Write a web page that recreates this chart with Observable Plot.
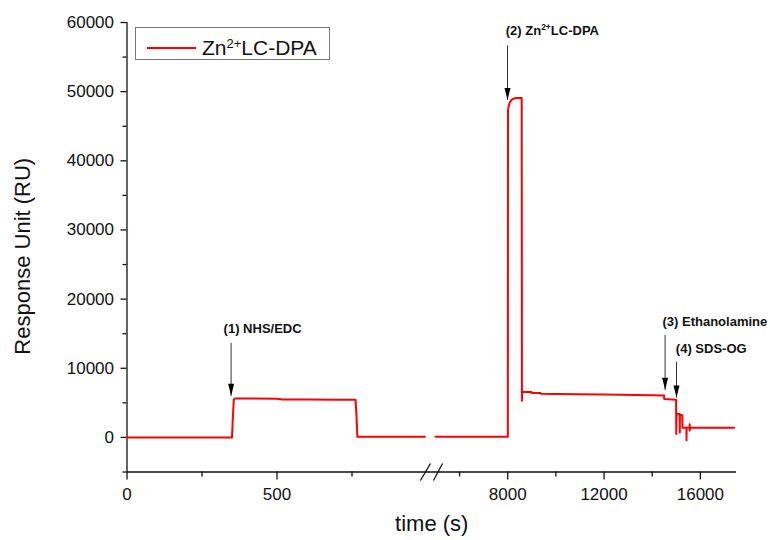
<!DOCTYPE html>
<html><head><meta charset="utf-8">
<script src="https://cdn.jsdelivr.net/npm/d3@7"></script>
<script src="https://cdn.jsdelivr.net/npm/@observablehq/plot@0.6"></script>
<style>
body{margin:0;background:#fff;}
#wrap{position:relative;width:770px;height:540px;font-family:"Liberation Sans",Arial,sans-serif;}
#legend{position:absolute;left:135px;top:27px;width:195px;height:33px;box-sizing:border-box;border:1px solid #777;background:#fff;}
#legend .swatch{position:absolute;left:11px;top:19px;width:49px;height:2px;background:#ff0000;}
#legend .lab{position:absolute;left:66px;top:9px;font-size:21px;line-height:1;color:#111;white-space:nowrap;}
#legend sup{font-size:0.62em;vertical-align:0.55em;line-height:0;}
</style></head>
<body><div id="wrap"></div>
<script>
// ---- data: segment before the axis break (s, RU)
const leftTime = [0, 100, 200, 300, 350, 353, 356, 360, 400, 500, 520, 600, 700, 762, 765, 768, 800, 900, 993];
const leftRU   = [0, 0, 0, 0, 0, 3000, 5500, 5620, 5620, 5600, 5480, 5470, 5460, 5450, 3000, 80, 80, 80, 80];
// ---- data: segment after the axis break (s, RU)
const rightTime = [5000, 6000, 7000, 8005, 8010, 8040, 8080, 8150, 8250, 8360, 8580, 8590, 8595, 8990, 9000, 9370, 9380, 10000, 12000, 14000, 14490, 14500, 14990, 15000, 15010, 15140, 15146, 15152, 15250, 15258, 15420, 15424, 15430, 15550, 15555, 15561, 15570, 16500, 17400];
const rightRU   = [100, 100, 100, 100, 47300, 47900, 48400, 48800, 49000, 49100, 49100, 5300, 6560, 6560, 6420, 6420, 6300, 6280, 6200, 6100, 6080, 5550, 5450, 500, 3400, 3400, 700, 3300, 3200, 1400, 1400, -400, 1400, 1400, 1900, 1000, 1400, 1400, 1400];
// ---- annotations
const annLabels     = ["(1) NHS/EDC", "(2) Zn2+LC-DPA", "(3) Ethanolamine", "(4) SDS-OG"];
const annLabelTime  = [322, 7917, 14427, 14980];
const annLabelRU    = [15700, 58840, 16760, 12850];
const annArrowTime  = [347, 7990, 14535, 15009];
const annArrowFrom  = [13680, 56680, 14840, 10930];
const annArrowTo    = [6010, 48810, 6880, 5760];
// ---- axes
const xMajorTicks = [0, 500, 8000, 12000, 16000];
const xMinorTicks = [250, 750, 6000, 10000, 14000];
const yMajorTicks = [0, 10000, 20000, 30000, 40000, 50000, 60000];
const yMinorTicks = [-5000, 5000, 15000, 25000, 35000, 45000, 55000];
const xBreakDomain = [0, 1000, 5000, 17500];
const breakSlashX1 = [978, 4059];
const breakSlashX2 = [2647, 5291];
const breakSlashY  = [-6230, -3770];
const seriesName = "Zn2+LC-DPA";

const rows = [
  ...leftTime.map((t, i) => ({t, ru: leftRU[i], seg: "a"})),
  ...rightTime.map((t, i) => ({t, ru: rightRU[i], seg: "b"}))
];
const ann = annLabels.map((label, i) => ({label, lt: annLabelTime[i], ly: annLabelRU[i], at: annArrowTime[i], from: annArrowFrom[i], to: annArrowTo[i]}));
const slashes = breakSlashX1.map((x1, i) => ({x1, x2: breakSlashX2[i], y1: breakSlashY[0], y2: breakSlashY[1]}));

const W = 770, H = 540, ML = 126.5, MR = 34, MT = 22, MB = 68.5;
const font = '"Liberation Sans", Arial, sans-serif';

const plot = Plot.plot({
  width: W, height: H,
  marginLeft: ML, marginRight: MR, marginTop: MT, marginBottom: MB,
  style: {fontFamily: font, background: "#fff", color: "#111", overflow: "visible"},
  x: {type: "linear", domain: xBreakDomain, range: [ML, 426.5, 435, W - MR]},
  y: {domain: [-5000, 60000]},
  marks: [
    Plot.ruleX([0], {stroke: "#111", strokeWidth: 1.3}),
    Plot.ruleY([-5000], {stroke: "#111", strokeWidth: 1.3}),
    Plot.link(slashes, {x1: "x1", x2: "x2", y1: "y1", y2: "y2", stroke: "#111", strokeWidth: 1.3}),
    Plot.axisY({ticks: yMajorTicks, tickSize: 6, tickPadding: 7, fontSize: 17, tickFormat: d3.format("d"), label: null, strokeWidth: 1.3}),
    Plot.axisY({ticks: yMinorTicks, tickSize: 4, tickFormat: () => "", label: null, strokeWidth: 1.3}),
    Plot.axisX({ticks: xMajorTicks, tickSize: 8, tickPadding: 8, fontSize: 17, tickFormat: d3.format("d"), label: null, strokeWidth: 1.3}),
    Plot.axisX({ticks: xMinorTicks, tickSize: 5, tickFormat: () => "", label: null, strokeWidth: 1.3}),
    Plot.line(rows, {x: "t", y: "ru", z: "seg", stroke: "#ff0000", strokeWidth: 2, curve: "linear"}),
    Plot.link(ann, {x1: "at", x2: "at", y1: "from", y2: "to", stroke: "#333", strokeWidth: 1}),
    Plot.vector(ann, {x: "at", y: "to", length: 12, rotate: 180, anchor: "end", shape: "spike", r: 3, fill: "#000", stroke: "none"}),
    Plot.text(ann, {x: "lt", y: "ly", text: "label", textAnchor: "start", fontWeight: "bold", fontSize: 13, fill: "#111"}),
    Plot.text(["Response Unit (RU)"], {frameAnchor: "left", textAnchor: "middle", rotate: -90, dx: -104.5, dy: 9, fontSize: 22, fill: "#111"}),
    Plot.text(["time (s)"], {frameAnchor: "bottom", textAnchor: "middle", dy: 59, fontSize: 22, fill: "#111"})
  ]
});

// superscript "2+" in annotation text
plot.querySelectorAll("text").forEach(t => {
  const s = t.textContent;
  const i = s.indexOf("Zn2+");
  if (i < 0 || t.children.length) return;
  t.textContent = "";
  const ns = "http://www.w3.org/2000/svg";
  const a = document.createElementNS(ns, "tspan"); a.textContent = s.slice(0, i + 2);
  const b = document.createElementNS(ns, "tspan"); b.textContent = "2+"; b.setAttribute("dy", "-5"); b.setAttribute("font-size", "8.5");
  const c = document.createElementNS(ns, "tspan"); c.textContent = s.slice(i + 4); c.setAttribute("dy", "5");
  t.append(a, b, c);
});

const wrap = document.getElementById("wrap");
wrap.appendChild(plot);
const lg = document.createElement("div");
lg.id = "legend";
const idx = seriesName.indexOf("2+");
lg.innerHTML = `<div class="swatch"></div><div class="lab">${seriesName.slice(0, idx)}<sup>2+</sup>${seriesName.slice(idx + 2)}</div>`;
wrap.appendChild(lg);
</script>
</body></html>
